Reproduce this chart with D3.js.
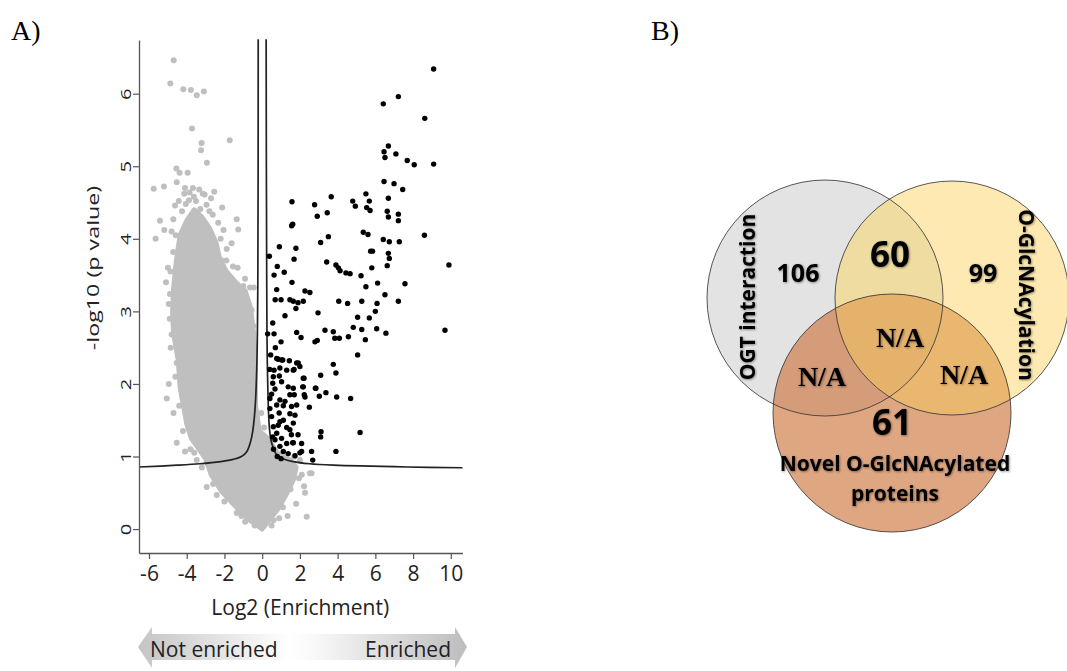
<!DOCTYPE html>
<html lang="en">
<head>
<meta charset="UTF-8">
<title>Volcano plot and Venn diagram</title>
<script src="https://d3js.org/d3.v7.min.js"></script>
<style>
  body { margin: 0; background: #fff; }
  text { font-family: "Open Sans", sans-serif; }
</style>
</head>
<body>
<div id="chart"></div>
<script>
// ---- data: volcano plot (log2 enrichment, -log10 p) ----
const xTicks = [-6, -4, -2, 0, 2, 4, 6, 8, 10];
const yTicks = [0, 1, 2, 3, 4, 5, 6];

// dense core of the non-enriched cloud (outline)
const grayCore = [[-4.55,3.7],[-4.35,4.05],[-4.0,4.25],[-3.6,4.4],[-3.2,4.3],[-2.8,4.15],[-2.45,3.95],
  [-2.25,3.72],[-1.9,3.55],[-1.4,3.4],[-0.9,3.28],[-0.62,3.05],
  [-0.45,2.7],[-0.37,2.3],[-0.35,1.7],[-0.15,1.35],[0.3,1.25],[0.8,1.05],[1.5,0.95],[1.8,0.85],[1.65,0.68],
  [1.3,0.49],[0.85,0.28],[0.3,0.1],[0,0],[-0.74,0.14],[-1.44,0.32],[-2.15,0.52],[-2.7,0.75],[-3.0,0.97],
  [-3.75,1.25],[-4.0,1.45],[-4.35,1.95],[-4.45,2.33],[-4.7,2.7],[-4.75,3.0],[-4.7,3.3]];

// scattered non-enriched proteins
const grayPoints = [[-4.69,6.46],[-4.87,6.14],[-4.18,6.06],[-3.78,6.05],[-3.47,5.98],[-3.09,6.03],[-3.72,5.52],
  [-3.21,5.32],[-1.72,5.36],[-3.24,5.22],[-2.93,5.05],[-4.55,4.97],[-4.38,4.91],[-3.95,4.91],[-4.53,4.78],
  [-5.75,4.69],[-5.21,4.72],[-4.09,4.7],[-3.67,4.7],[-3.34,4.68],[-2.54,4.65],[-3.05,4.61],[-4.13,4.62],
  [-2.71,4.56],[-4.62,4.46],[-3.88,4.53],[-3.51,4.52],[-2.12,4.43],[-5.42,4.25],[-5.65,4.0],[-5.19,4.12],
  [-4.8,4.1],[-1.35,4.27],[-1.27,4.13],[-1.62,3.94],[-0.91,3.45],[-0.65,3.33],[-0.45,3.33],[-0.56,3.02],
  [-0.47,2.8],[-4.89,3.24],[-4.8,2.68],[-4.27,2.45],[-4.53,2.29],[-5.06,1.8],[-4.53,1.19],[-4.09,1.07],
  [-3.47,0.95],[-2.94,0.58],[-2.41,0.47],[-1.35,0.22],[2.36,0.17],[2.27,0.5],[2.62,0.77],[2.22,0.59],
  [1.35,0.18],[2.53,0.77],[-5.0,3.6],[-4.95,2.0],[-2.2,4.0],[-1.9,3.7],[-1.1,3.2],[-0.8,2.6],[-4.7,1.6],
  [-3.8,1.1],[-2.5,0.8],[-1.8,0.45],[-0.9,0.1],[0.5,0.05],[0.9,0.15],[1.8,0.35],[2.1,0.75],[-0.1,1.2],
  [0.2,1.1],[0.1,1.4],[-0.05,1.6],
  [-4.42,4.52],[-4.05,4.48],[-3.62,4.58],[-3.28,4.41],[-2.95,4.47],[-2.62,4.33],[-2.33,4.22],[-4.71,4.27],
  [-4.58,4.05],[-2.05,4.12],[-1.88,3.86],[-2.15,3.7],[-1.55,3.62],[-4.72,3.82],[-4.86,3.55],[-3.15,4.62],
  [-3.85,4.64],[-4.25,4.38],[-2.8,4.38],[-1.75,3.48],
  [-4.9,2.9],[-4.85,2.5],[-4.6,2.1],[-4.4,1.7],[-4.2,1.35],[-3.6,1.05],[-3.2,0.85],[-2.6,0.62],[-2.0,0.38],
  [-1.1,0.18],[-0.4,0.05],[0.6,0.12],[1.1,0.3],[1.5,0.55],[1.95,0.7],[2.0,0.95],[1.7,1.0],[-1.5,3.3],
  [-1.0,3.35],[-0.75,3.1],[-0.6,2.5],[-0.5,2.1],[-1.3,3.6],[-5.1,3.4],[-4.95,3.1]];

// enriched proteins
const blackPoints = [[9.09,6.34],[6.42,5.86],[7.22,5.96],[8.62,5.66],[9.09,5.03],[6.69,5.28],[6.46,5.2],
  [6.51,5.12],[7.09,5.17],[7.69,5.08],[8.06,5.02],[6.46,4.79],[6.99,4.76],[7.45,4.68],[6.69,4.56],[6.63,4.38],
  [6.69,4.3],[7.22,4.34],[7.22,4.25],[6.42,3.99],[6.74,3.96],[7.27,3.96],[8.6,4.05],[9.9,3.64],[5.5,4.62],
  [5.68,4.52],[5.54,4.43],[5.72,4.39],[4.8,4.52],[4.94,4.45],[3.66,4.58],[2.78,4.47],[2.92,4.31],[3.45,4.36],
  [1.58,4.51],[1.56,4.18],[1.62,4.2],[1.79,3.87],[1.69,3.72],[3.1,3.95],[3.51,4.03],[3.42,3.68],[3.91,3.64],
  [4.04,3.6],[4.13,3.56],[4.44,3.53],[4.66,3.52],[5.24,3.49],[5.75,3.83],[5.85,3.83],[5.36,4.09],[5.61,4.06],
  [5.81,3.6],[5.5,3.34],[6.12,3.39],[6.51,3.23],[6.63,3.63],[6.74,3.73],[6.69,3.8],[7.57,3.38],[0.91,3.89],
  [0.38,3.76],[0.8,3.62],[1.17,3.54],[0.63,3.5],[0.77,3.3],[1.58,3.4],[2.27,3.28],[2.53,3.26],[0.69,3.16],
  [1.0,3.16],[1.47,3.16],[1.65,3.14],[1.79,3.04],[1.9,3.12],[2.18,3.14],[1.21,2.94],[0.56,2.84],[2.96,2.98],
  [0.29,2.69],[0.63,2.69],[1.0,2.58],[1.83,2.71],[2.06,2.64],[2.8,2.58],[2.92,2.6],[3.33,2.74],[3.77,2.72],
  [4.09,2.63],[3.85,2.63],[4.06,3.14],[4.53,3.11],[5.28,3.14],[6.09,3.11],[6.0,3.0],[5.68,2.91],[5.06,2.92],
  [4.83,2.78],[5.28,2.75],[4.57,2.65],[5.47,2.61],[6.07,2.76],[6.56,2.7],[7.22,3.14],[9.69,2.74],[5.06,2.4],
  [3.77,2.27],[3.91,2.15],[3.1,2.12],[2.85,1.94],[3.38,1.88],[3.03,1.83],[3.95,1.82],[4.69,1.8],[2.5,1.68],
  [5.19,1.33],[3.12,1.34],[3.1,1.27],[3.91,1.07],[2.62,1.07],[2.68,0.95],[2.09,1.07],[1.65,1.19],[2.09,1.18],
  [2.22,2.08],[2.15,1.96],[2.23,1.85],[1.69,2.2],[1.91,2.29],[1.44,2.32],[1.09,2.33],[0.85,2.34],[0.77,2.35],
  [1.03,2.33],[1.83,2.29],[2.0,2.24],[1.65,2.19],[0.63,2.19],[0.94,2.22],[0.59,2.1],[0.91,2.11],[1.03,2.03],
  [0.56,2.01],[2.18,2.08],[0.68,1.93],[0.5,1.86],[1.38,1.96],[1.65,1.94],[2.18,1.96],[2.82,1.94],[1.47,1.85],
  [1.7,1.85],[2.27,1.82],[0.94,1.78],[0.41,1.8],[0.77,1.71],[1.12,1.7],[1.56,1.69],[0.41,1.66],[1.47,1.59],
  [1.74,1.57],[0.5,1.55],[1.12,1.5],[1.65,1.46],[0.59,1.41],[1.47,1.37],[0.77,1.32],[1.03,1.25],[0.68,1.23],
  [1.3,1.18],[1.62,1.19],[0.94,1.14],[1.12,1.07],[1.38,1.04],[1.74,1.01],[2.0,1.05],[0.85,1.43],[1.21,1.76],
  [1.83,1.71],[1.3,2.19],[0.94,1.48],[0.56,1.27],[1.9,1.3],[0.45,2.4],[0.7,2.5],[0.4,2.2],[0.9,1.6],
  [1.3,1.4],[1.55,1.3],[0.6,1.1],[0.8,1.0],[1.0,0.97]];

// significance threshold curves
const leftCurve = [[-6.53,0.855],[-4.5,0.88],[-3.3,0.9],[-2.2,0.93],[-1.54,0.96],[-1.1,1.0],[-0.81,1.07],
  [-0.62,1.2],[-0.5,1.35],[-0.37,1.69],[-0.28,2.29],[-0.23,3.43],[-0.21,6.75]];
const rightCurve = [[0.21,6.75],[0.24,3.5],[0.28,2.19],[0.39,1.37],[0.51,1.18],[0.78,1.02],[1.1,0.97],
  [1.65,0.93],[2.5,0.9],[3.78,0.88],[7.7,0.855],[10.62,0.845]];

// ---- data: Venn diagram ----
const vennSets = ["OGT interaction", "O-GlcNAcylation", "Novel O-GlcNAcylated proteins"];
const vennRegions = ["G", "Y", "GY", "O", "GO", "YO", "GYO"];
const vennValues = ["106", "99", "60", "61", "N/A", "N/A", "N/A"];

const svg = d3.select("#chart").append("svg")
    .attr("width", 1067).attr("height", 671)
    .style("background", "#fff");

const defs = svg.append("defs");
defs.append("filter").attr("id", "soft")
    .attr("x", "-20%").attr("y", "-20%").attr("width", "140%").attr("height", "140%")
  .append("feDropShadow")
    .attr("dx", 0.8).attr("dy", 0.8).attr("stdDeviation", 0.9)
    .attr("flood-color", "#000").attr("flood-opacity", 0.45);

// panel letters
svg.append("text").attr("x", 11).attr("y", 40).text("A)")
    .style("font-family", "Liberation Serif").style("font-size", "28px");
svg.append("text").attr("x", 651).attr("y", 40).text("B)")
    .style("font-family", "Liberation Serif").style("font-size", "28px");

// ================= A) volcano plot =================
const x = d3.scaleLinear().domain([-6.53, 10.62]).range([139, 462.5]);
const y = d3.scaleLinear().domain([-0.33, 6.74]).range([553, 40]);

const grayCol = "#bfbfbf";
const plot = svg.append("g");

plot.append("path")
    .datum(grayCore)
    .attr("d", d3.line().x(d => x(d[0])).y(d => y(d[1])).curve(d3.curveLinearClosed))
    .attr("fill", grayCol).attr("stroke", grayCol)
    .attr("stroke-width", 5).attr("stroke-linejoin", "round");

plot.append("g").selectAll("circle")
  .data(grayPoints)
  .join("circle")
    .attr("cx", d => x(d[0])).attr("cy", d => y(d[1]))
    .attr("r", 3).attr("fill", grayCol);

// threshold lines
const curveLine = d3.line().x(d => x(d[0])).y(d => y(d[1])).curve(d3.curveCatmullRom.alpha(0.5));
[leftCurve, rightCurve].forEach(c => {
  plot.append("path").datum(c)
    .attr("d", curveLine)
    .attr("fill", "none").attr("stroke", "#222").attr("stroke-width", 1.7);
});

plot.append("g").selectAll("circle")
  .data(blackPoints)
  .join("circle")
    .attr("cx", d => x(d[0])).attr("cy", d => y(d[1]))
    .attr("r", 2.7).attr("fill", "#000");

// axes
const fmt = d => String(d);
const xAxis = plot.append("g")
    .attr("transform", `translate(0,${y.range()[0]})`)
    .call(d3.axisBottom(x).tickValues(xTicks).tickFormat(fmt).tickSize(6).tickSizeOuter(0));
xAxis.selectAll("text").attr("y", 13).style("font-size", "21px").attr("fill", "#222");

const yAxis = plot.append("g")
    .attr("transform", `translate(${x.range()[0]},0)`)
    .call(d3.axisLeft(y).tickValues(yTicks).tickFormat(fmt).tickSize(6).tickSizeOuter(0));
yAxis.selectAll("text")
    .attr("x", 0).attr("y", 0).attr("dy", 0)
    .attr("text-anchor", "middle")
    .attr("transform", "translate(-8,0) rotate(-90) scale(1.35,1)")
    .style("font-size", "15px").attr("fill", "#222");

[xAxis, yAxis].forEach(a => {
  a.select(".domain").attr("stroke", "#555").attr("stroke-width", 1.3);
  a.selectAll(".tick line").attr("stroke", "#555").attr("stroke-width", 1.2);
});

plot.append("text")
    .attr("transform", "translate(99,268) rotate(-90) scale(1.37,1)")
    .attr("text-anchor", "middle")
    .style("font-size", "17px").attr("fill", "#222")
    .text("-log10 (p value)");

plot.append("text")
    .attr("x", d3.mean(x.range()) - 0.5).attr("y", 615)
    .attr("text-anchor", "middle")
    .style("font-size", "21px").attr("fill", "#222")
    .text("Log2 (Enrichment)");

// enrichment arrow under the axis
const grad = defs.append("linearGradient").attr("id", "arrowGrad")
    .attr("x1", "0%").attr("x2", "100%").attr("y1", "0%").attr("y2", "0%");
[["0%", "#c4c4c4"], ["46%", "#ffffff"], ["54%", "#f8f8f8"], ["100%", "#bdbdbd"]].forEach(s =>
  grad.append("stop").attr("offset", s[0]).attr("stop-color", s[1]));

const ax0 = x.range()[0] - 1, ax1 = x.range()[1] + 4.5;
const cy = 647;
const arrowPts = [[ax0, cy], [ax0 + 14, cy - 20], [ax0 + 14, cy - 13], [ax1 - 12, cy - 13], [ax1 - 12, cy - 20],
  [ax1, cy], [ax1 - 12, cy + 21], [ax1 - 12, cy + 13], [ax0 + 14, cy + 13], [ax0 + 14, cy + 21]];
plot.append("path")
    .attr("d", d3.line()(arrowPts) + "Z")
    .attr("fill", "url(#arrowGrad)");

plot.append("text").attr("x", 150).attr("y", 657)
    .style("font-size", "21px").attr("fill", "#222").text("Not enriched");
plot.append("text").attr("x", 451).attr("y", 657).attr("text-anchor", "end")
    .style("font-size", "21px").attr("fill", "#222").text("Enriched");

// ================= B) Venn diagram =================
const circles = {
  G: { cx: 825, cy: 298, r: 118 },
  Y: { cx: 952, cy: 298, r: 117 },
  O: { cx: 892, cy: 413, r: 119 }
};
Object.entries(circles).forEach(([k, c]) => {
  defs.append("clipPath").attr("id", "clip" + k)
    .append("circle").attr("cx", c.cx).attr("cy", c.cy).attr("r", c.r);
});

const venn = svg.append("g");
const addCircle = (g, k, fill) => g.append("circle")
    .attr("cx", circles[k].cx).attr("cy", circles[k].cy).attr("r", circles[k].r).attr("fill", fill);

addCircle(venn, "G", "#e3e3e3");
addCircle(venn, "Y", "#fde9b1");
addCircle(venn.append("g").attr("clip-path", "url(#clipG)"), "Y", "#efdca1");
addCircle(venn, "O", "#dfa682");
addCircle(venn.append("g").attr("clip-path", "url(#clipG)"), "O", "#d49c78");
addCircle(venn.append("g").attr("clip-path", "url(#clipY)"), "O", "#eab770");
addCircle(venn.append("g").attr("clip-path", "url(#clipG)").append("g").attr("clip-path", "url(#clipY)"), "O", "#e5b26c");

Object.keys(circles).forEach(k => {
  venn.append("circle")
    .attr("cx", circles[k].cx).attr("cy", circles[k].cy).attr("r", circles[k].r)
    .attr("fill", "none").attr("stroke", "#3a3a3a").attr("stroke-width", 1).attr("stroke-opacity", 0.85);
});

// region counts
const regionPos = {
  G: [798, 273, 25, false], Y: [983, 273, 25, false], GY: [890, 254, 35, false], O: [892, 422, 35, false],
  GO: [822, 376, 28, true], YO: [964, 374, 28, true], GYO: [900, 337, 28, true]
};
venn.append("g").selectAll("text")
  .data(vennRegions.map((r, i) => ({ region: r, value: vennValues[i] })))
  .join("text")
    .attr("x", d => regionPos[d.region][0])
    .attr("y", d => regionPos[d.region][1])
    .attr("dy", "0.36em")
    .attr("text-anchor", "middle")
    .style("font-family", d => regionPos[d.region][3] ? "Liberation Serif" : "Open Sans")
    .style("font-weight", "bold")
    .style("font-size", d => regionPos[d.region][2] + "px")
    .attr("filter", "url(#soft)")
    .text(d => d.value);

// set labels
const lbl = venn.append("g").style("font-weight", "bold")
    .attr("text-anchor", "middle").attr("filter", "url(#soft)");
lbl.append("text").attr("transform", "translate(755,297) rotate(-90)")
    .style("font-size", "21px").text(vennSets[0]);
lbl.append("text").attr("transform", "translate(1019,295) rotate(90)")
    .style("font-size", "21px").text(vennSets[1]);
lbl.append("text").attr("x", 895).attr("y", 471)
    .style("font-size", "21px").text("Novel O-GlcNAcylated");
lbl.append("text").attr("x", 895).attr("y", 501)
    .style("font-size", "21px").text("proteins");
</script>
</body>
</html>
